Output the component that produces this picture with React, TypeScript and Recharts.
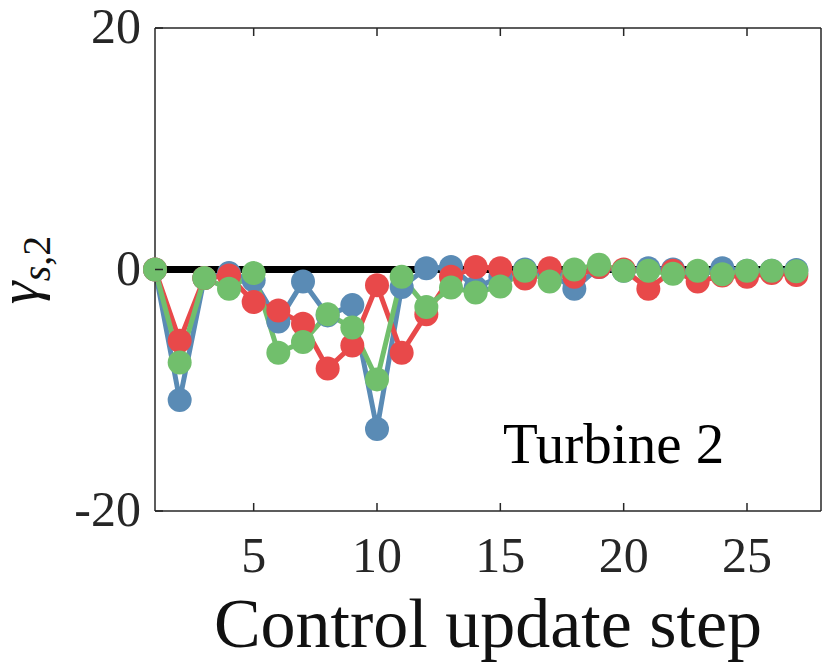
import React from 'react'
import { LineChart, Line, XAxis, YAxis } from 'recharts'

// control update steps 1..27
const steps = [1, 2, 3, 4, 5, 6, 7, 8, 9, 10, 11, 12, 13, 14, 15, 16, 17, 18, 19, 20, 21, 22, 23, 24, 25, 26, 27]
const referenceValues = [0, 0, 0, 0, 0, 0, 0, 0, 0, 0, 0, 0, 0, 0, 0, 0, 0, 0, 0, 0, 0, 0, 0, 0, 0, 0, 0]
const blueValues = [0, -10.8, -0.7, -0.3, -0.9, -4.3, -1.0, -3.8, -2.95, -13.2, -1.45, 0.1, 0.2, -1.5, -0.6, 0, -0.3, -1.6, 0.2, -0.1, 0.1, 0, -0.2, 0.1, -0.1, -0.1, -0.05]
const redValues = [0, -5.9, -0.7, -0.5, -2.7, -3.4, -4.5, -8.2, -6.3, -1.3, -6.9, -3.7, -0.6, 0.2, 0.1, -0.75, 0.1, -0.6, 0.2, 0, -1.6, -0.1, -1.0, -0.5, -0.6, -0.3, -0.45]
const greenValues = [0, -7.7, -0.7, -1.6, -0.3, -6.9, -6.0, -3.7, -4.8, -9.1, -0.6, -3.1, -1.5, -1.9, -1.4, -0.1, -1.0, 0, 0.4, -0.1, -0.1, -0.35, -0.1, -0.4, -0.1, -0.1, -0.15]

const xTicks = [5, 10, 15, 20, 25]
const yTicks = [-20, 0, 20]

const FONT = '"Liberation Serif", "Times New Roman", serif'
const AXIS = '#262626'
const BLUE = '#5a8bb5'
const RED = '#e8494a'
const GREEN = '#71bf6c'
const TICK = 8

const data = steps.map((step, i) => ({
  step,
  ref: referenceValues[i],
  blue: blueValues[i],
  red: redValues[i],
  green: greenValues[i],
}))

const BottomTick = ({ x, y, payload }: any) => (
  <g>
    <line x1={x} y1={y} x2={x} y2={y - TICK} stroke={AXIS} strokeWidth={1.5} />
    <text x={x} y={y + 61} textAnchor="middle" fontFamily={FONT} fontSize={50} fill="#262626">
      {payload.value}
    </text>
  </g>
)

const TopTick = ({ x, y }: any) => (
  <line x1={x} y1={y} x2={x} y2={y + TICK} stroke={AXIS} strokeWidth={1.5} />
)

const LeftTick = ({ x, y, payload }: any) => (
  <g>
    <line x1={x} y1={y} x2={x + TICK} y2={y} stroke={AXIS} strokeWidth={1.5} />
    <text x={x - 14} y={y + 15} textAnchor="end" fontFamily={FONT} fontSize={50} fill="#262626">
      {payload.value}
    </text>
  </g>
)

const RightTick = ({ x, y }: any) => (
  <line x1={x} y1={y} x2={x - TICK} y2={y} stroke={AXIS} strokeWidth={1.5} />
)

const dot = (color: string) => ({ r: 12, fill: color, stroke: 'none' })

export default function App() {
  return (
    <div style={{ position: 'relative', width: 830, height: 669, background: '#fff' }}>
      <style>{`body{margin:0}`}</style>
      <LineChart
        width={830}
        height={669}
        data={data}
        margin={{ top: 27, right: 8, bottom: 157, left: 154 }}
      >
        <XAxis
          dataKey="step"
          type="number"
          domain={[1, 28]}
          ticks={xTicks}
          height={1}
          tickSize={0}
          tickMargin={0}
          tickLine={false}
          tick={<BottomTick />}
          axisLine={{ stroke: AXIS, strokeWidth: 1.5 }}
          interval={0}
        />
        <XAxis
          xAxisId="top"
          orientation="top"
          dataKey="step"
          type="number"
          domain={[1, 28]}
          ticks={xTicks}
          height={1}
          tickSize={0}
          tickMargin={0}
          tickLine={false}
          tick={<TopTick />}
          axisLine={{ stroke: AXIS, strokeWidth: 1.5 }}
          interval={0}
        />
        <YAxis
          type="number"
          domain={[-20, 20]}
          ticks={yTicks}
          width={1}
          tickSize={0}
          tickMargin={0}
          tickLine={false}
          tick={<LeftTick />}
          axisLine={{ stroke: AXIS, strokeWidth: 1.5 }}
          interval={0}
        />
        <YAxis
          yAxisId="right"
          orientation="right"
          type="number"
          domain={[-20, 20]}
          ticks={yTicks}
          width={1}
          tickSize={0}
          tickMargin={0}
          tickLine={false}
          tick={<RightTick />}
          axisLine={{ stroke: AXIS, strokeWidth: 1.5 }}
          interval={0}
        />
        <Line dataKey="ref" stroke="#000" strokeWidth={7} dot={false} activeDot={false} isAnimationActive={false} />
        <Line dataKey="blue" stroke={BLUE} strokeWidth={5} dot={dot(BLUE)} activeDot={false} isAnimationActive={false} />
        <Line dataKey="red" stroke={RED} strokeWidth={5} dot={dot(RED)} activeDot={false} isAnimationActive={false} />
        <Line dataKey="green" stroke={GREEN} strokeWidth={5} dot={dot(GREEN)} activeDot={false} isAnimationActive={false} />
      </LineChart>

      {/* axis titles and annotation */}
      <svg width={830} height={669} style={{ position: 'absolute', left: 0, top: 0, pointerEvents: 'none' }}>
        <text
          transform="translate(38, 270) rotate(-90)"
          textAnchor="middle"
          fontFamily={FONT}
          fontSize={58}
          fill="#111"
        >
          <tspan fontStyle="italic">γ</tspan>
          <tspan fontSize={40} dy={12} fontStyle="italic">s</tspan>
          <tspan fontSize={40}>,2</tspan>
        </text>
        <text x={488} y={647} textAnchor="middle" fontFamily={FONT} fontSize={70} fill="#111">
          Control update step
        </text>
        <text x={503} y={463} fontFamily={FONT} fontSize={57} fill="#000">
          Turbine 2
        </text>
      </svg>
    </div>
  )
}
